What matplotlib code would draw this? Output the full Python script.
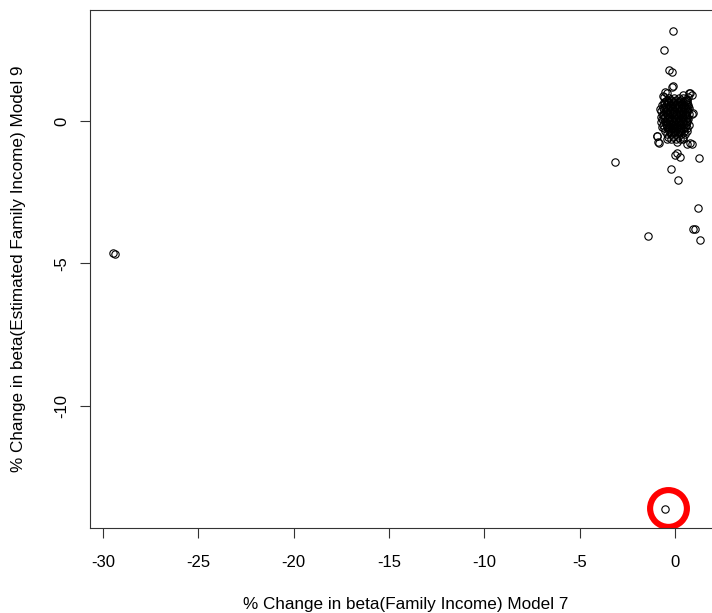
import matplotlib
matplotlib.use('Agg')
import matplotlib.pyplot as plt

plt.rcParams['font.family'] = ['Liberation Sans', 'DejaVu Sans']

# dense core of the cluster around (0, 0)
core_x = [-0.45, -0.2, 0.05, 0.3, 0.55,
          -0.6, -0.35, -0.1, 0.15, 0.4, 0.65,
          -0.7, -0.5, -0.25, 0.0, 0.22, 0.45, 0.7,
          -0.62, -0.4, -0.15, 0.08, 0.3, 0.52, 0.75,
          -0.72, -0.5, -0.28, -0.05, 0.18, 0.4, 0.62,
          -0.65, -0.42, -0.18, 0.05, 0.28, 0.5, 0.72,
          -0.75, -0.55, -0.3, -0.08, 0.15, 0.38, 0.6,
          -0.68, -0.45, -0.2, 0.02, 0.25, 0.48, 0.7,
          -0.72, -0.5, -0.28, -0.05, 0.18, 0.42, 0.65,
          -0.65, -0.4, -0.15, 0.08, 0.3, 0.55, 0.72,
          -0.6, -0.35, -0.1, 0.12, 0.35, 0.6,
          -0.55, -0.3, -0.05, 0.2, 0.45, 0.65,
          -0.45, -0.2, 0.05, 0.3, 0.5,
          -0.35, -0.1, 0.15, 0.4,
          -0.2, 0.05, 0.28]
core_y = [0.75, 0.75, 0.75, 0.75, 0.75,
          0.65, 0.65, 0.65, 0.65, 0.65, 0.65,
          0.55, 0.55, 0.55, 0.55, 0.55, 0.55, 0.55,
          0.45, 0.45, 0.45, 0.45, 0.45, 0.45, 0.45,
          0.35, 0.35, 0.35, 0.35, 0.35, 0.35, 0.35,
          0.25, 0.25, 0.25, 0.25, 0.25, 0.25, 0.25,
          0.15, 0.15, 0.15, 0.15, 0.15, 0.15, 0.15,
          0.05, 0.05, 0.05, 0.05, 0.05, 0.05, 0.05,
          -0.05, -0.05, -0.05, -0.05, -0.05, -0.05, -0.05,
          -0.15, -0.15, -0.15, -0.15, -0.15, -0.15, -0.15,
          -0.25, -0.25, -0.25, -0.25, -0.25, -0.25,
          -0.35, -0.35, -0.35, -0.35, -0.35, -0.35,
          -0.45, -0.45, -0.45, -0.45, -0.45,
          -0.55, -0.55, -0.55, -0.55,
          -0.62, -0.62, -0.62]

# second layer of the core, sitting between the first
inner_x = [-0.32, -0.08, 0.18, 0.42,
           -0.48, -0.22, 0.02, 0.28, 0.52,
           -0.58, -0.36, -0.12, 0.12, 0.36, 0.6,
           -0.52, -0.28, -0.02, 0.22, 0.46, 0.66,
           -0.6, -0.38, -0.12, 0.14, 0.38, 0.6,
           -0.55, -0.32, -0.06, 0.18, 0.42, 0.64,
           -0.62, -0.38, -0.12, 0.12, 0.36, 0.58,
           -0.58, -0.32, -0.08, 0.16, 0.4, 0.62,
           -0.55, -0.3, -0.04, 0.2, 0.44, 0.62,
           -0.5, -0.26, 0.0, 0.24, 0.48,
           -0.44, -0.18, 0.08, 0.32, 0.54,
           -0.32, -0.08, 0.18, 0.4,
           -0.24, 0.0, 0.25]
inner_y = [0.8, 0.8, 0.8, 0.8,
           0.7, 0.7, 0.7, 0.7, 0.7,
           0.6, 0.6, 0.6, 0.6, 0.6, 0.6,
           0.5, 0.5, 0.5, 0.5, 0.5, 0.5,
           0.4, 0.4, 0.4, 0.4, 0.4, 0.4,
           0.3, 0.3, 0.3, 0.3, 0.3, 0.3,
           0.2, 0.2, 0.2, 0.2, 0.2, 0.2,
           0.1, 0.1, 0.1, 0.1, 0.1, 0.1,
           0.0, 0.0, 0.0, 0.0, 0.0, 0.0,
           -0.1, -0.1, -0.1, -0.1, -0.1,
           -0.2, -0.2, -0.2, -0.2, -0.2,
           -0.3, -0.3, -0.3, -0.3,
           -0.4, -0.4, -0.4]

# points around the edge of the cluster
fringe_x = [-0.12, -0.53, -0.62, 0.44, 0.75, 0.88, 0.62, 0.93, -0.96, -0.88,
            -0.44, 0.09, 0.44, 0.62, 0.88, 0.09, 0.26, 0.0, -0.44, -0.58,
            0.79, 0.7, -0.79, 0.88, -0.96, -0.84, 0.79, -0.7, -0.17, -0.3]
fringe_y = [1.23, 1.03, 0.88, 0.91, 0.99, 0.91, 0.74, 0.27, -0.52, -0.73,
            -0.63, -0.73, -0.63, -0.82, -0.82, -1.13, -1.25, -1.19, 0.97, 0.83,
            0.99, 0.83, 0.41, 0.25, -0.53, -0.76, -0.78, -0.2, 1.2, 1.77]

# isolated outliers
outlier_x = [-0.09, -0.58, -0.17, -3.16, 1.26, -0.19, 0.14, 1.19, 0.96, 1.07,
             -1.4, 1.32, -0.53, -29.5, -29.38]
outlier_y = [3.17, 2.47, 1.72, -1.43, -1.29, -1.68, -2.07, -3.04, -3.78, -3.78,
             -4.02, -4.19, -13.6, -4.62, -4.67]

# red highlight drawn around the extreme point
highlight_x = [-0.37]
highlight_y = [-13.58]

xticks = [-30, -25, -20, -15, -10, -5, 0]
yticks = [0, -5, -10]

fig = plt.figure(figsize=(7.12, 6.13), dpi=100)
ax = fig.add_axes([90 / 712, 85 / 613, 632 / 712, 518 / 613])

groups = [(core_x, core_y), (inner_x, inner_y), (fringe_x, fringe_y), (outlier_x, outlier_y)]
for xs, ys in groups:
    ax.plot(xs, ys, linestyle='none', marker='o', markersize=5.3,
            markerfacecolor='none', markeredgecolor='black', markeredgewidth=0.8)

ax.plot(highlight_x, highlight_y, linestyle='none', marker='o', markersize=26.5,
        markerfacecolor='none', markeredgecolor='red', markeredgewidth=4.4)

ax.set_xlim(-30.68, 2.46)
ax.set_ylim(-14.28, 3.89)
ax.set_xticks(xticks)
ax.set_yticks(yticks)
ax.set_xticklabels([str(t) for t in xticks])
ax.set_yticklabels([str(t) for t in yticks], rotation=90, va='center')

ax.tick_params(direction='out', length=7.2, width=0.8, labelsize=12, color='#333333')
ax.tick_params(axis='x', pad=12)
ax.tick_params(axis='y', pad=8)
for s in ax.spines.values():
    s.set_linewidth(0.8)
    s.set_color('#333333')

ax.set_xlabel('% Change in beta(Family Income) Model 7', fontsize=12.3, labelpad=20)
ax.set_ylabel('% Change in beta(Estimated Family Income) Model 9', fontsize=12.3, labelpad=20)

fig.savefig('out.png', dpi=100)
